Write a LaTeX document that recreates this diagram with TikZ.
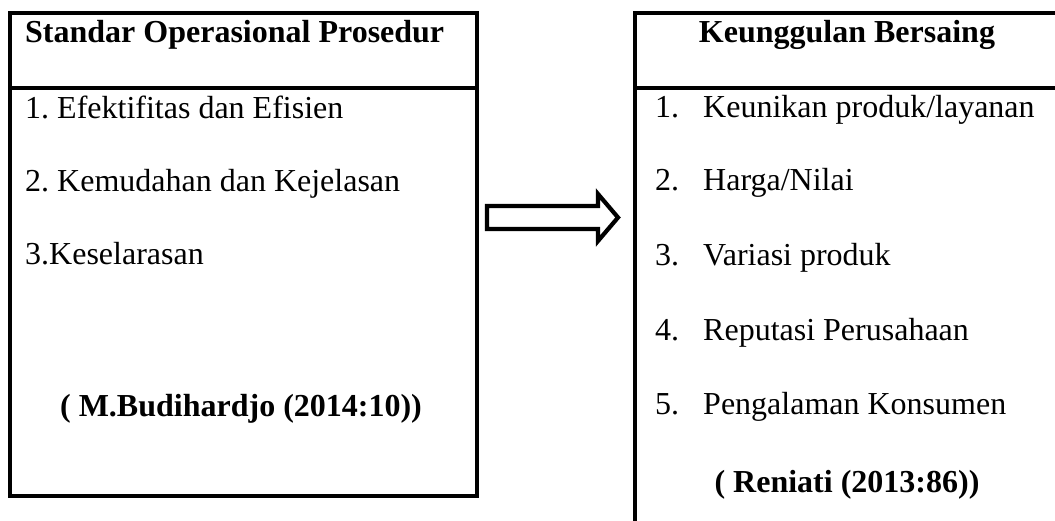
\documentclass[tikz,border=0pt]{standalone}
\usepackage{fontspec}
\setmainfont{Liberation Serif}
\frenchspacing
\begin{document}
\begin{tikzpicture}[x=1pt,y=-1pt,
  boxline/.style={line width=3.2pt},
  txt/.style={anchor=base west,inner sep=0pt,font=\fontsize{32}{38}\selectfont},
  hdr/.style={anchor=base,inner sep=0pt,font=\fontsize{32}{38}\selectfont\bfseries},
  blockarrow/.style={line width=4.2pt,line join=miter,fill=white}]
\clip (0,0) rectangle (1055,521);
\fill[white] (0,0) rectangle (1055,521);
% left box
\draw[boxline] (10,13) rectangle (477,496);
\draw[boxline] (10,88) -- (477,88);
% right box
\draw[boxline] (1070,13) -- (635,13) -- (635,540);
\draw[boxline] (635,88) -- (1070,88);
% left texts
\node[txt,font=\fontsize{32}{38}\selectfont\bfseries] (lh) at (25,43) {Standar Operasional Prosedur};
\node[txt] (l1) at (25,119) {1. Efektifitas dan Efisien};
\node[txt] (l2) at (25,192) {2. Kemudahan dan Kejelasan};
\node[txt] (l3) at (25,265) {3.Keselarasan};
\node[hdr] (lref) at (241,416) {( M.Budihardjo (2014:10))};
% right texts
\node[hdr] (rh) at (847,43) {Keunggulan Bersaing};
\node[txt] (n1) at (655,118) {1.};
\node[txt] (r1) at (703,118) {Keunikan produk/layanan};
\node[txt] (n2) at (655,191) {2.};
\node[txt] (r2) at (703,191) {Harga/Nilai};
\node[txt] (n3) at (655,266) {3.};
\node[txt] (r3) at (703,266) {Variasi produk};
\node[txt] (n4) at (655,341) {4.};
\node[txt] (r4) at (703,341) {Reputasi Perusahaan};
\node[txt] (n5) at (655,414) {5.};
\node[txt] (r5) at (703,414) {Pengalaman Konsumen};
\node[hdr] (rref) at (847,492) {( Reniati (2013:86))};
% block arrow
\draw[blockarrow] (487,206) -- (598,206) -- (598,194) -- (618,217.5) -- (598,241) -- (598,229) -- (487,229) -- cycle;
\end{tikzpicture}
\end{document}
